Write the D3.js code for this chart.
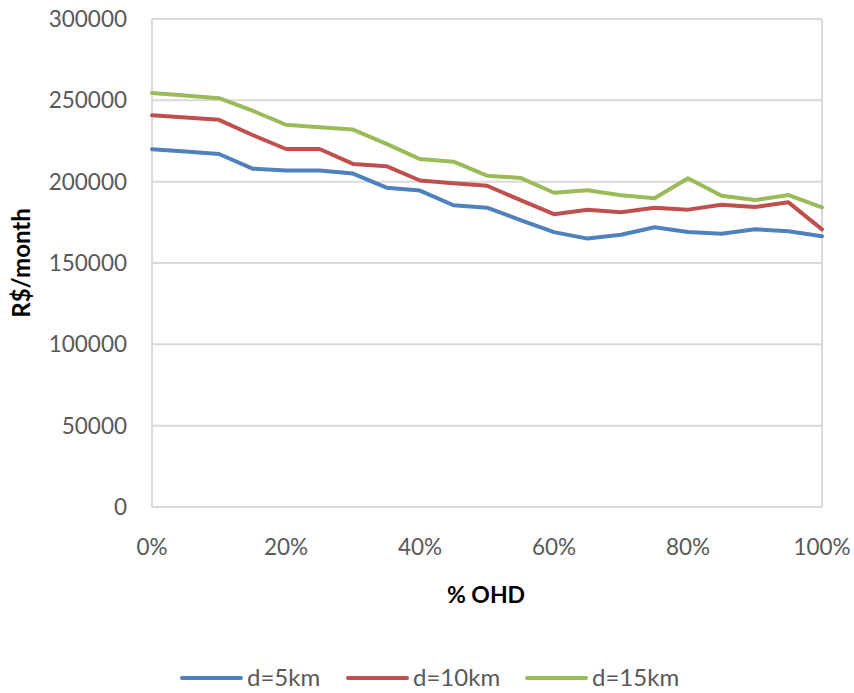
<!DOCTYPE html>
<html><head><meta charset="utf-8">
<script src="https://cdn.jsdelivr.net/npm/d3@7"></script>
<style>body{margin:0;background:#fff}svg{display:block}text{font-family:Lato,"Open Sans",sans-serif}</style>
</head><body><div id="c"></div>
<script>
const categories = [0,5,10,15,20,25,30,35,40,45,50,55,60,65,70,75,80,85,90,95,100];
const d5  = [220000,218500,217000,208000,206800,206800,205000,196300,194500,185500,184000,176400,169000,165000,167400,172000,169000,168000,170700,169500,166400];
const d10 = [240800,239500,238000,228700,220100,220100,210900,209500,200700,199000,197500,188700,180000,182800,181200,184000,182800,185800,184400,187300,170700];
const d15 = [254500,253000,251300,243600,235000,233400,232000,223200,213900,212300,203700,202300,193200,194700,191600,189800,202100,191400,188700,191800,184200];
const seriesNames = ["d=5km","d=10km","d=15km"];
const colors = ["#4F81BD","#C0504D","#9BBB59"];
const yTicks = [0,50000,100000,150000,200000,250000,300000];
const xTicks = [0,20,40,60,80,100];

const W=854,H=693;
const svg=d3.select("#c").append("svg").attr("width",W).attr("height",H);
const x=d3.scaleLinear().domain([0,100]).range([152,822]);
const y=d3.scaleLinear().domain([0,300000]).range([507,19]);

svg.append("g").selectAll("line").data(yTicks).join("line")
 .attr("x1",152).attr("x2",822).attr("y1",d=>y(d)).attr("y2",d=>y(d))
 .attr("stroke","#D9D9D9").attr("stroke-width",2);
svg.append("line").attr("x1",152).attr("x2",152).attr("y1",y(300000)).attr("y2",y(0)).attr("stroke","#D9D9D9").attr("stroke-width",2);
svg.append("line").attr("x1",822).attr("x2",822).attr("y1",y(300000)).attr("y2",y(0)).attr("stroke","#D9D9D9").attr("stroke-width",2);

svg.append("g").selectAll("text").data(yTicks).join("text")
 .attr("x",127).attr("y",d=>y(d)).attr("dy","0.35em").attr("text-anchor","end")
 .attr("font-size",22.5).attr("fill","#595959").text(d=>d);
svg.append("g").selectAll("text").data(xTicks).join("text")
 .attr("x",d=>x(d)).attr("y",547).attr("dy","0.35em").attr("text-anchor","middle")
 .attr("font-size",22.5).attr("fill","#595959").text(d=>d+"%");

svg.append("text").attr("transform","translate(22,263) rotate(-90)").attr("text-anchor","middle")
 .attr("dy","0.35em").attr("font-size",24).attr("font-weight","bold").attr("fill","#000").text("R$/month");
svg.append("text").attr("x",486).attr("y",595).attr("dy","0.35em").attr("text-anchor","middle")
 .attr("font-size",23).attr("font-weight","bold").attr("fill","#000").text("% OHD");

const data=[d5,d10,d15];
const line=d3.line().x((d,i)=>x(categories[i])).y(d=>y(d));
svg.append("g").selectAll("path").data(data).join("path")
 .attr("d",line).attr("fill","none").attr("stroke",(d,i)=>colors[i])
 .attr("stroke-width",4).attr("stroke-linejoin","round").attr("stroke-linecap","round");

const lx=[182,348,527];
const lg=svg.append("g").selectAll("g").data(seriesNames).join("g").attr("transform",(d,i)=>`translate(${lx[i]},678)`);
lg.append("line").attr("x1",0).attr("x2",59).attr("y1",0).attr("y2",0).attr("stroke",(d,i)=>colors[i]).attr("stroke-width",4).attr("stroke-linecap","round");
lg.append("text").attr("x",65).attr("y",0).attr("dy","0.35em").attr("font-size",24).attr("fill","#595959").text(d=>d);
</script></body></html>
